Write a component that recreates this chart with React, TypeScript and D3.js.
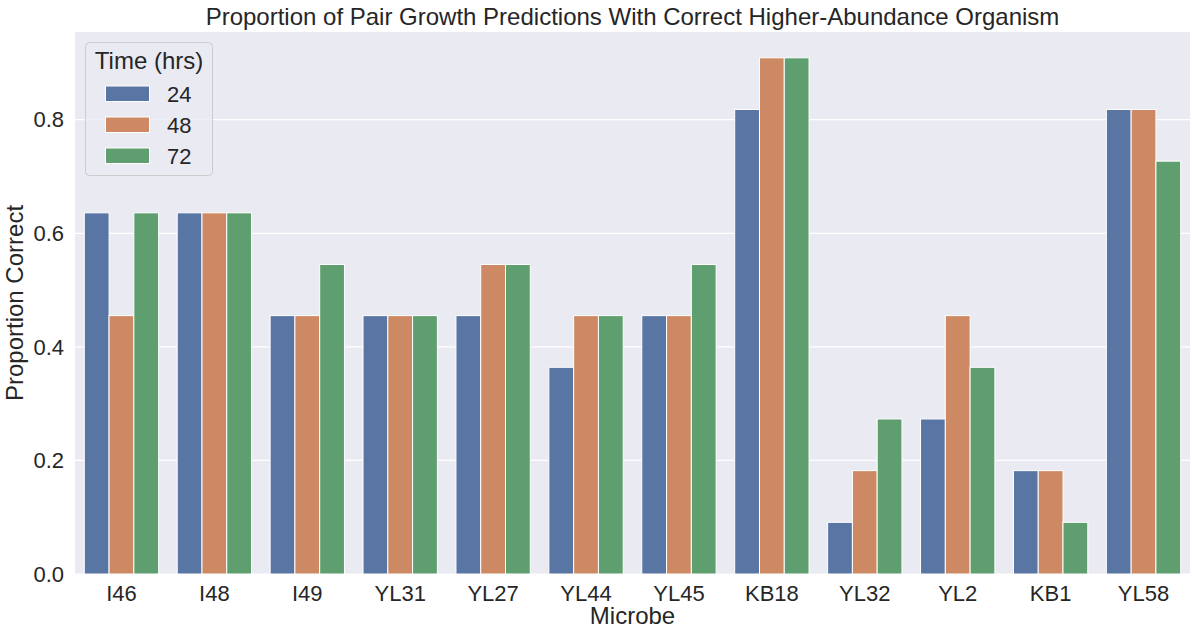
import React from "react";
import * as d3 from "d3";

const microbes = ["I46", "I48", "I49", "YL31", "YL27", "YL44", "YL45", "KB18", "YL32", "YL2", "KB1", "YL58"];
const times = ["24", "48", "72"];
const values24 = [0.636, 0.636, 0.455, 0.455, 0.455, 0.364, 0.455, 0.818, 0.091, 0.273, 0.182, 0.818];
const values48 = [0.455, 0.636, 0.455, 0.455, 0.545, 0.455, 0.455, 0.909, 0.182, 0.455, 0.182, 0.818];
const values72 = [0.636, 0.636, 0.545, 0.455, 0.545, 0.455, 0.545, 0.909, 0.273, 0.364, 0.091, 0.727];
const yTicks = [0, 0.2, 0.4, 0.6, 0.8];
const colors = ["#5975a4", "#cc8963", "#5f9e6e"];

const W = 1197, H = 638;
const M = { left: 75, right: 1190, top: 32, bottom: 574 };
const FONT = "'Liberation Sans', Arial, sans-serif";

export default function App() {
  const series = [values24, values48, values72];
  const yMax = d3.max(series.flat())! * 1.05;
  const x0 = d3.scaleBand().domain(microbes).range([M.left, M.right]).paddingInner(0.2).paddingOuter(0.1);
  const x1 = d3.scaleBand().domain(times).range([0, x0.bandwidth()]);
  const y = d3.scaleLinear().domain([0, yMax]).range([M.bottom, M.top]);
  const bandFull = (M.right - M.left) / microbes.length;

  return (
    <svg width={W} height={H} style={{ position: "absolute", left: 0, top: 0 }} fontFamily={FONT}>
      <rect x={0} y={0} width={W} height={H} fill="#fff" />
      <rect x={M.left} y={M.top} width={M.right - M.left} height={M.bottom - M.top} fill="#eaeaf2" />
      {yTicks.map((t) => (
        <g key={t}>
          <line x1={M.left} x2={M.right} y1={y(t)} y2={y(t)} stroke="#fff" strokeWidth={1.25} />
          <text x={M.left - 11} y={y(t)} dy="0.35em" textAnchor="end" fontSize={22} fill="#262626">
            {t.toFixed(1)}
          </text>
        </g>
      ))}
      {microbes.map((m, i) => {
        const cx = M.left + bandFull * (i + 0.5);
        const start = cx - bandFull * 0.4;
        return (
          <g key={m}>
            {series.map((s, j) => {
              const bx = start + x1(times[j])!;
              return (
                <rect
                  key={j}
                  x={bx}
                  y={y(s[i])}
                  width={x1.bandwidth()}
                  height={M.bottom - y(s[i])}
                  fill={colors[j]}
                  stroke="#fff"
                  strokeWidth={1}
                />
              );
            })}
            <text x={cx} y={600.5} textAnchor="middle" fontSize={22} fill="#262626">
              {m}
            </text>
          </g>
        );
      })}
      <text x={(M.left + M.right) / 2} y={25} textAnchor="middle" fontSize={24} fill="#262626">
        Proportion of Pair Growth Predictions With Correct Higher-Abundance Organism
      </text>
      <text x={(M.left + M.right) / 2} y={623.5} textAnchor="middle" fontSize={24} fill="#262626">
        Microbe
      </text>
      <text
        transform={`translate(${23},${(M.top + M.bottom) / 2}) rotate(-90)`}
        textAnchor="middle"
        fontSize={24}
        fill="#262626"
      >
        Proportion Correct
      </text>
      <g>
        <rect x={85.5} y={42.5} width={127} height={133} rx={4} fill="#eaeaf2" fillOpacity={0.8} stroke="#cccccc" strokeWidth={1} />
        <text x={149} y={69} textAnchor="middle" fontSize={24} fill="#262626">
          Time (hrs)
        </text>
        {times.map((t, j) => (
          <g key={t}>
            <rect x={105.5} y={86 + j * 31} width={44} height={15.5} fill={colors[j]} stroke="#fff" strokeWidth={1} />
            <text x={167} y={94 + j * 31} dy="0.35em" fontSize={22} fill="#262626">
              {t}
            </text>
          </g>
        ))}
      </g>
    </svg>
  );
}
